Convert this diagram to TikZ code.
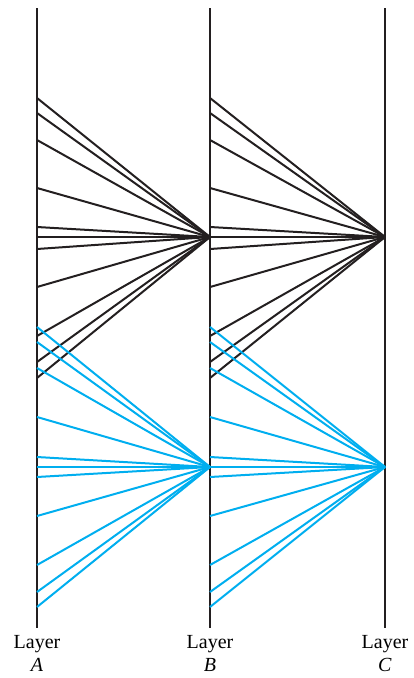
\documentclass[tikz,border=0pt]{standalone}
\usepackage{fontspec}
\setmainfont{Liberation Serif}
\usetikzlibrary{positioning}
\definecolor{netblue}{HTML}{00AEEF}
\definecolor{netblack}{HTML}{231F20}

\begin{document}
\begin{tikzpicture}[x=1pt,y=-1pt,
  axisline/.style={netblack, line width=1.8pt},
  blackfan/.style={netblack, line width=2pt},
  bluefan/.style={netblue, line width=2pt},
  layerlabel/.style={font=\fontsize{20}{23}\selectfont, align=center, inner sep=0pt}]
\useasboundingbox (0,0) rectangle (414,678);

% Layer axes with their labels
\foreach \n/\x in {A/37, B/210, C/385} {
  \coordinate (top\n) at (\x,8);
  \coordinate (bot\n) at (\x,628);
  \draw[axisline] (top\n) -- (bot\n);
  \node[layerlabel, below=7pt of bot\n] (lab\n) {Layer\\\textit{\n}};
}

% Hubs where the fans meet
\coordinate (hubB) at (210,237);
\coordinate (hubC) at (385,237);
\coordinate (bhubB) at (210,467);
\coordinate (bhubC) at (385,467);

% Black fan
\foreach \y [count=\i] in {98,113,140,188,227,237,249,287,336,362,378} {
  \coordinate (ka\i) at (37,\y);
  \coordinate (kb\i) at (210,\y);
  \draw[blackfan] (ka\i) -- (hubB);
  \draw[blackfan] (kb\i) -- (hubC);
}

% Blue fan
\foreach \y [count=\i] in {327,342,368,417,457,467,477,516,565,592,607} {
  \coordinate (ca\i) at (37,\y);
  \coordinate (cb\i) at (210,\y);
  \draw[bluefan] (ca\i) -- (bhubB);
  \draw[bluefan] (cb\i) -- (bhubC);
}

\end{tikzpicture}
\end{document}
